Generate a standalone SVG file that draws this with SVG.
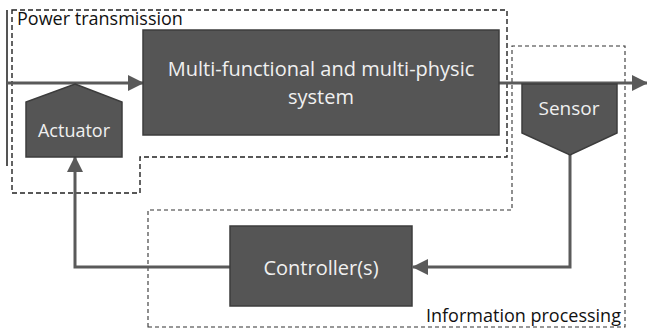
<svg xmlns="http://www.w3.org/2000/svg" width="647" height="329" viewBox="0 0 647 329">
<style>
.box{fill:#555555;stroke:#3c3c3c;stroke-width:1.5}
.lbl{font-family:"Open Sans","Liberation Sans",sans-serif;fill:#f0f0f0;text-anchor:middle}
.cap{font-family:"Open Sans","Liberation Sans",sans-serif;fill:#111}
.wire{fill:none;stroke:#5a5a5a;stroke-width:3}
.dash1{fill:none;stroke:#222;stroke-width:1.4;stroke-dasharray:5 3}
.dash2{fill:none;stroke:#333;stroke-width:1.1;stroke-dasharray:4 3}
</style>
<defs>
<marker id="arr" viewBox="0 0 16 16" refX="15" refY="8" markerWidth="16" markerHeight="16" markerUnits="userSpaceOnUse" orient="auto">
<path d="M0,0 L16,8 L0,16 z" fill="#5a5a5a"/>
</marker>
</defs>
<rect width="647" height="329" fill="#ffffff"/>
<g id="regions">
<path class="dash1" d="M12,10 H507 V157 H140 V193 H12 Z"/>
<path class="dash2" d="M148,327 V210 H512 V46 H625 V327 Z"/>
<text class="cap" x="17" y="25" font-size="18">Power transmission</text>
<text class="cap" x="426" y="322" font-size="18">Information processing</text>
</g>
<g id="connectors">
<line x1="7" y1="10" x2="7" y2="166" stroke="#555" stroke-width="2"/>
<line class="wire" x1="7" y1="83" x2="143" y2="83" marker-end="url(#arr)"/>
<line class="wire" x1="499" y1="83" x2="647" y2="83" marker-end="url(#arr)"/>
<polyline class="wire" points="570,155 570,267 413,267" marker-end="url(#arr)"/>
<polyline class="wire" points="230,267 75,267 75,157" marker-end="url(#arr)"/>
</g>
<g id="system">
<rect class="box" x="143" y="30" width="356" height="105"/>
<text class="lbl" x="321" y="76" font-size="20">Multi-functional and multi-physic</text>
<text class="lbl" x="321" y="104" font-size="20">system</text>
</g>
<g id="actuator">
<polygon class="box" points="75,84 122,102 122,157 26,157 26,102"/>
<text class="lbl" x="74" y="137" font-size="18">Actuator</text>
</g>
<g id="sensor">
<polygon class="box" points="522,84 617,84 617,133 570,155 522,133"/>
<text class="lbl" x="569" y="115" font-size="19">Sensor</text>
</g>
<g id="controller">
<rect class="box" x="230" y="226" width="182" height="80"/>
<text class="lbl" x="321" y="275" font-size="20">Controller(s)</text>
</g>
</svg>
